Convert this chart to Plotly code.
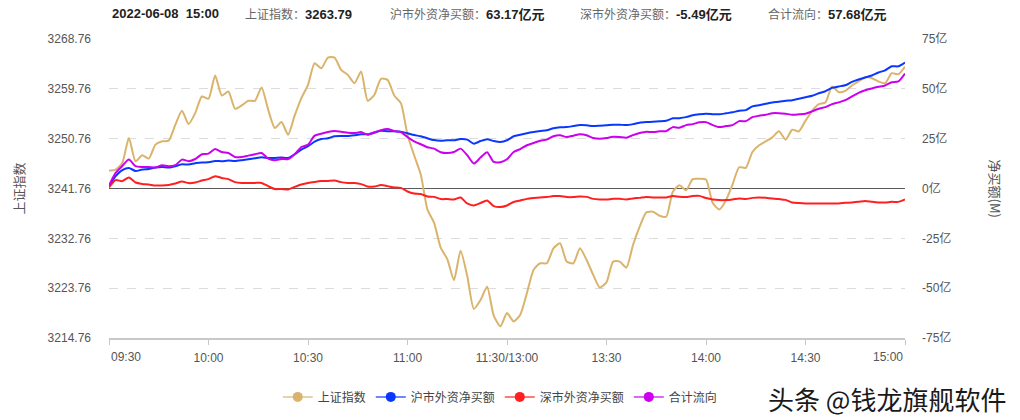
import plotly.graph_objects as go

# minute offsets from 09:30 (trading minutes, lunch break removed), sampled every 2 min
minutes = list(range(0, 241, 2))

sh_index = [
    3245.00, 3245.18, 3246.38, 3250.88, 3246.68, 3247.76, 3247.16, 3249.68, 3250.28, 3250.40,
    3253.28, 3255.80, 3253.40, 3255.38, 3258.38, 3257.96, 3262.16, 3258.56, 3259.28, 3256.16,
    3256.76, 3257.60, 3257.60, 3260.00, 3255.98, 3252.68, 3253.76, 3251.48, 3254.96, 3258.08,
    3260.48, 3264.38, 3263.48, 3265.40, 3265.40, 3263.18, 3262.28, 3260.78, 3262.88, 3257.60,
    3258.68, 3261.56, 3261.38, 3258.56, 3257.18, 3251.48, 3247.76, 3244.28, 3237.98, 3235.58,
    3231.08, 3229.00, 3225.20, 3230.50, 3226.00, 3220.00, 3221.60, 3224.00, 3218.80, 3216.86,
    3219.26, 3217.76, 3218.96, 3222.86, 3227.06, 3228.26, 3228.26, 3230.96, 3231.86, 3228.56,
    3228.26, 3230.96, 3228.86, 3226.16, 3223.88, 3224.84, 3228.56, 3228.56, 3227.48, 3231.56,
    3234.86, 3237.44, 3237.56, 3236.84, 3236.66, 3241.16, 3242.36, 3241.46, 3243.44, 3243.50,
    3243.38, 3239.18, 3237.98, 3239.60, 3242.48, 3245.60, 3245.48, 3248.36, 3249.56, 3250.28,
    3251.00, 3252.08, 3250.58, 3252.38, 3252.08, 3254.00, 3255.80, 3257.00, 3257.30, 3260.18,
    3259.16, 3259.40, 3260.36, 3261.08, 3261.86, 3261.68, 3261.08, 3260.78, 3262.58, 3262.40,
    3263.79,
]

sh_north = [
    1.0, 6.2, 9.2, 10.3, 8.8, 9.5, 9.8, 10.5, 10.8, 10.5,
    11.2, 12.2, 12.0, 12.7, 13.0, 13.2, 13.8, 13.7, 14.0, 13.8,
    14.2, 14.7, 15.2, 15.7, 15.3, 15.3, 15.5, 15.3, 17.2, 19.5,
    21.2, 23.5, 24.8, 25.2, 26.2, 26.3, 26.3, 26.7, 27.2, 27.2,
    28.0, 29.0, 28.7, 28.7, 28.5, 27.7, 26.8, 26.2, 25.2, 24.3,
    24.0, 24.2, 24.2, 24.8, 24.5, 22.5, 23.8, 24.7, 23.8, 23.3,
    24.2, 26.2, 27.0, 27.7, 28.3, 28.8, 29.2, 30.2, 30.7, 30.8,
    31.3, 31.8, 31.7, 31.3, 31.5, 31.7, 32.0, 32.0, 31.8, 32.3,
    33.0, 33.3, 33.5, 33.7, 34.0, 35.2, 35.3, 35.8, 36.7, 37.2,
    37.5, 37.3, 37.2, 37.7, 38.2, 39.0, 39.3, 41.2, 41.8, 42.5,
    43.2, 43.5, 44.0, 44.3, 45.0, 45.8, 46.5, 47.8, 48.8, 50.5,
    51.2, 51.8, 53.5, 54.7, 55.7, 56.7, 58.2, 59.3, 61.3, 61.3,
    63.17,
]

sz_north = [
    0.5, 4.2, 3.7, 5.5, 3.0, 2.3, 2.0, 1.5, 1.5, 1.8,
    2.5, 3.5, 2.7, 3.0, 4.0, 4.7, 6.2, 5.3, 4.7, 3.2,
    2.8, 2.8, 2.8, 2.8, 1.2, -0.3, -0.2, -0.5, 0.8, 2.0,
    2.8, 3.3, 3.7, 3.8, 4.0, 3.2, 2.8, 2.7, 2.2, 1.0,
    1.0, 1.7, 1.2, 0.5, 0.3, -1.5, -2.5, -2.8, -4.0, -4.2,
    -5.3, -5.3, -5.5, -4.5, -7.5, -8.5, -7.3, -6.0, -8.8, -9.3,
    -8.5, -6.8, -6.0, -5.2, -4.8, -4.5, -4.3, -3.8, -3.8, -4.3,
    -4.3, -4.0, -4.2, -5.2, -5.5, -5.5, -5.2, -5.2, -5.5, -5.0,
    -4.7, -4.3, -4.5, -4.5, -4.5, -3.8, -4.2, -4.3, -3.8, -3.7,
    -4.8, -5.5, -5.8, -5.8, -5.5, -5.0, -5.3, -4.7, -4.5, -4.7,
    -5.0, -5.3, -5.7, -7.0, -7.3, -7.5, -7.5, -7.5, -7.5, -7.5,
    -7.5, -7.2, -7.0, -6.7, -6.3, -6.7, -7.0, -7.0, -6.7, -6.7,
    -5.49,
]

total_flow = [
    1.5, 7.8, 11.3, 14.5, 11.2, 10.8, 10.8, 10.5, 11.7, 11.2,
    11.7, 14.5, 13.7, 14.8, 17.2, 17.5, 19.8, 18.3, 17.8, 15.8,
    15.8, 16.5, 17.2, 17.8, 15.0, 14.2, 14.8, 14.8, 17.2, 20.8,
    22.0, 26.5, 27.5, 28.3, 28.8, 28.5, 28.0, 27.8, 28.3, 27.0,
    28.2, 29.3, 29.8, 28.8, 28.3, 25.8, 23.7, 22.2, 20.7, 20.0,
    18.2, 17.8, 18.3, 20.0, 16.7, 12.5, 15.5, 18.2, 13.3, 13.2,
    14.7, 18.3, 19.8, 21.7, 22.8, 24.0, 24.5, 26.2, 26.7, 25.8,
    26.5, 27.2, 26.7, 25.3, 25.0, 25.3, 26.0, 25.8, 25.5, 26.8,
    27.8, 28.5, 28.3, 28.7, 28.8, 30.8, 30.5, 31.8, 32.3, 33.2,
    33.3, 31.8, 30.8, 31.3, 31.8, 33.8, 33.8, 35.8, 36.5, 37.0,
    37.8, 37.8, 37.5, 37.0, 37.2, 37.5, 38.7, 40.0, 40.8, 42.3,
    43.2, 44.3, 46.2, 48.0, 49.3, 50.2, 51.0, 51.7, 53.3, 53.7,
    57.68,
]

tick_minutes = [0, 30, 60, 90, 120, 150, 180, 210, 240]
tick_labels = ["09:30", "10:00", "10:30", "11:00", "11:30/13:00", "13:30", "14:00", "14:30", "15:00"]
left_ticks = [3214.76, 3223.76, 3232.76, 3241.76, 3250.76, 3259.76, 3268.76]
right_ticks = [-75, -50, -25, 0, 25, 50, 75]

series_names = ["上证指数", "沪市外资净买额", "深市外资净买额", "合计流向"]
colors = ["#dab46c", "#0a37ff", "#ff1f1f", "#cc00ee"]
legend_line_colors = ["rgba(218,180,108,0.6)", "rgba(10,55,255,0.6)", "rgba(255,31,31,0.6)", "rgba(204,0,238,0.6)"]

FONT = "Liberation Sans, Arial, Noto Sans CJK SC, sans-serif"
CJK = "Noto Sans CJK SC, Liberation Sans, sans-serif"

fig = go.Figure()

line_kw = dict(mode="lines", line_shape="spline", showlegend=False, hoverinfo="skip")
fig.add_trace(go.Scatter(x=minutes, y=sh_index, yaxis="y", line=dict(color=colors[0], width=2, smoothing=0.6), **line_kw))
fig.add_trace(go.Scatter(x=minutes, y=sh_north, yaxis="y2", line=dict(color=colors[1], width=2, smoothing=0.6), **line_kw))
fig.add_trace(go.Scatter(x=minutes, y=sz_north, yaxis="y2", line=dict(color=colors[2], width=2, smoothing=0.6), **line_kw))
fig.add_trace(go.Scatter(x=minutes, y=total_flow, yaxis="y2", line=dict(color=colors[3], width=2, smoothing=0.6), **line_kw))

# legend-only entries (line + circle symbol)
for name, c, lc in zip(series_names, colors, legend_line_colors):
    fig.add_trace(go.Scatter(x=[None], y=[None], mode="lines+markers", name=name, yaxis="y2",
                             line=dict(color=lc, width=2), marker=dict(color=c, size=10)))

fig.update_layout(
    width=1020, height=420,
    margin=dict(l=109, r=115, t=39, b=82, autoexpand=False),
    paper_bgcolor="white", plot_bgcolor="white",
    font=dict(family=FONT, size=12, color="#555"),
    xaxis=dict(
        range=[0, 240], tickmode="array", tickvals=tick_minutes,
        ticktext=[""] + tick_labels[1:-1] + [""],
        showgrid=False, zeroline=False,
        showline=True, linecolor="#c8c8c8", linewidth=2,
        ticks="outside", ticklen=5, tickcolor="#c8c8c8", tickwidth=1,
        ticklabelstandoff=3,
        tickfont=dict(family=FONT, size=12, color="#555"),
    ),
    yaxis=dict(
        range=[3214.76, 3268.76], tickmode="array", tickvals=left_ticks,
        ticktext=[f"{v:.2f}" for v in left_ticks],
        showgrid=True, gridcolor="#dcdcdc", griddash="dash", gridwidth=1,
        zeroline=False, showline=False, ticks="",
        ticklabelstandoff=17,
        tickfont=dict(family=FONT, size=12, color="#555"),
    ),
    yaxis2=dict(
        range=[-75, 75], overlaying="y", side="right", tickmode="array",
        tickvals=right_ticks, ticktext=[f"{v}亿" for v in right_ticks],
        showgrid=False, zeroline=True, zerolinecolor="#5a5a5a", zerolinewidth=1,
        showline=False, ticks="", ticklabelstandoff=16,
        tickfont=dict(family=FONT, size=12, color="#555"),
    ),
    legend=dict(
        orientation="h", x=0.212, xanchor="left", y=-0.197, yanchor="middle",
        font=dict(family=CJK, size=12, color="#444"), bgcolor="rgba(0,0,0,0)",
        itemclick=False,
    ),
    showlegend=True,
)

ann = []
# first/last x tick labels aligned to the ends of the axis
ann.append(dict(text=tick_labels[0], x=0, xref="x", y=0, yref="paper", xanchor="left", yanchor="middle",
                yshift=-19, showarrow=False, font=dict(family=FONT, size=12, color="#555")))
ann.append(dict(text=tick_labels[-1], x=240, xref="x", y=0, yref="paper", xanchor="right", yanchor="middle",
                yshift=-19, showarrow=False, font=dict(family=FONT, size=12, color="#555")))

# axis titles
ann.append(dict(text="上证指数", x=0, xref="paper", xshift=-91, y=0.5, yref="paper", textangle=-90,
                showarrow=False, xanchor="center", yanchor="middle", font=dict(family=CJK, size=13, color="#555")))
ann.append(dict(text="净买额(M)", x=1, xref="paper", xshift=90, y=0.5, yref="paper", textangle=90,
                showarrow=False, xanchor="center", yanchor="middle", font=dict(family=CJK, size=13, color="#555")))

# header
def header(text, px):
    return dict(text=text, x=0, xref="paper", xshift=px - 109, y=1, yref="paper", yshift=26,
                xanchor="left", yanchor="middle", showarrow=False, align="left",
                font=dict(family=CJK, size=12, color="#666"))

VAL = "<span style='font-family:Liberation Sans, Arial;font-size:13px;color:#222'><b>{}</b></span>"
VALCN = "<span style='font-size:13px;color:#222'><b>{}</b></span>"
ann.append(header(VAL.format("2022-06-08\u00a0\u00a015:00"), 110))
ann.append(header("上证指数：" + VAL.format("3263.79"), 243))
ann.append(header("沪市外资净买额：" + VAL.format("63.17") + VALCN.format("亿元"), 388))
ann.append(header("深市外资净买额：" + VAL.format("-5.49") + VALCN.format("亿元"), 578))
ann.append(header("合计流向：" + VAL.format("57.68") + VALCN.format("亿元"), 766))

# watermark
ann.append(dict(text="头条 @钱龙旗舰软件", x=1, xref="paper", xshift=1008 - 905, y=0, yref="paper",
                yshift=-(398 - 338), xanchor="right", yanchor="middle", showarrow=False,
                font=dict(family=CJK, size=26, color="#1a1a1a")))

fig.update_layout(annotations=ann)

fig.write_html("out.html")
